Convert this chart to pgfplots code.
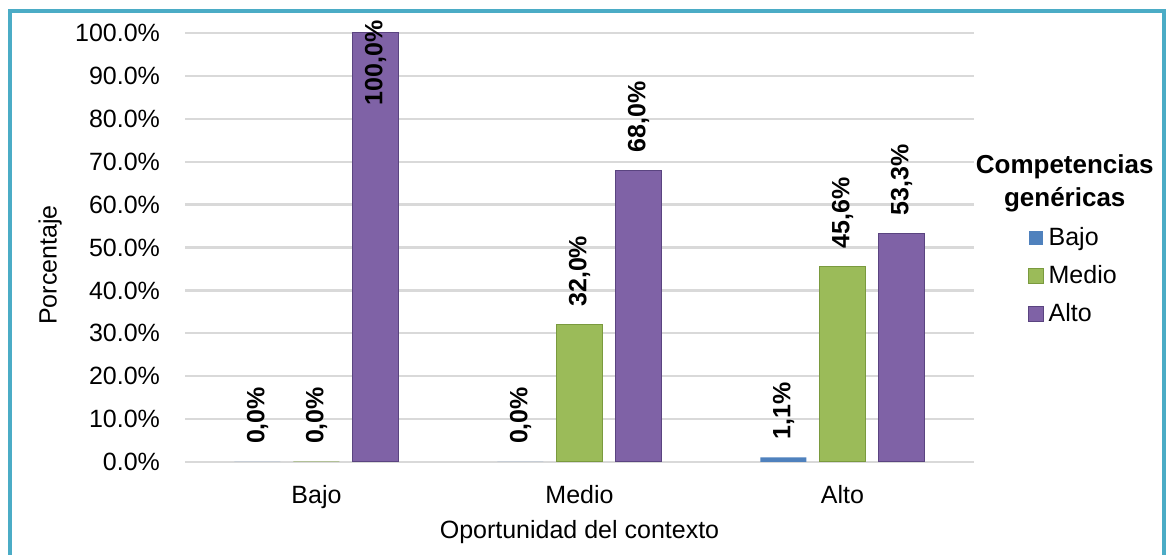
\documentclass[border=0pt]{standalone}
\usepackage{pgfplots}
\pgfplotsset{compat=1.18}
\usepackage{fontspec}
\setmainfont{Liberation Sans}
\definecolor{frame}{HTML}{4BACC6}
\definecolor{gridgray}{HTML}{D9D9D9}
\definecolor{cblue}{HTML}{4F81BD}
\definecolor{gM}{HTML}{9BBB59}
\definecolor{gD}{HTML}{7A9A3E}
\definecolor{pM}{HTML}{7F62A6}
\definecolor{pD}{HTML}{5A4480}
\begin{document}
\begin{tikzpicture}[x=1pt,y=1pt]
\useasboundingbox (0,0) rectangle (466.4pt,222pt);
\draw[frame, line width=1.6pt] (3.8pt,-2pt) -- (3.8pt,217.4pt) -- (465.4pt,217.4pt) -- (465.4pt,-2pt);
\begin{axis}[
  at={(74pt,37.2pt)}, anchor=south west,
  scale only axis, width=315.6pt, height=171.6pt,
  xmin=-0.5, xmax=2.5, ymin=0, ymax=100,
  ybar, bar width=18.4pt,
  xtick={0,1,2}, xticklabels={Bajo,Medio,Alto},
  ytick={0,10,...,100},
  /pgf/number format/assume math mode=true,
  yticklabel={\pgfmathprintnumber[fixed,fixed zerofill,precision=1]{\tick}\%},
  yticklabel style={xshift=-6.5pt},
  xticklabel style={yshift=-6pt},
  axis line style={draw=none},
  major tick length=0pt,
  ymajorgrids, grid style={draw=gridgray, line width=0.9pt},
  clip=false,
  ylabel={Porcentaje},
  ylabel style={at={(axis description cs:-0.171,0.459)}, anchor=center},
  xlabel={Oportunidad del contexto},
  xlabel style={at={(axis description cs:0.5,-0.163)}, anchor=center},
  nodes near coords={\pgfmathprintnumber[fixed,fixed zerofill,precision=1,use comma]{\pgfplotspointmeta}\%},
  visualization depends on={rawy \as \rawy},
  every node near coord/.append style={font=\bfseries, rotate=90,
    /utils/exec={\ifdim\rawy pt>99pt \def\myanc{east}\def\mysep{-5.2pt}\else\def\myanc{west}\def\mysep{7pt}\fi},
    anchor=\myanc, inner xsep=\mysep, text=black},
  legend style={at={(axis description cs:1.068,0.56)}, anchor=north west, draw=none, fill=none,
    row sep=2.4pt, inner sep=0pt},
  legend cell align=left,
  legend image code/.code={\path[#1] (0pt,-2.9pt) rectangle (5.8pt,2.9pt);},
]
\addplot[bar shift=-23.6pt, fill=cblue, draw=none] coordinates {(0,0) (1,0) (2,1.1)};
\addplot[bar shift=0pt, fill=gM, draw=gD, line width=0.4pt] coordinates {(0,0) (1,32.0) (2,45.6)};
\addplot[bar shift=23.6pt, fill=pM, draw=pD, line width=0.4pt] coordinates {(0,100.0) (1,68.0) (2,53.3)};
\legend{Bajo,Medio,Alto}
\node[font=\fontsize{10.4}{12}\bfseries, align=center, inner sep=0pt] at (axis description cs:1.115,0.650) {Competencias\\[1.4pt]genéricas};
\end{axis}
\end{tikzpicture}
\end{document}
